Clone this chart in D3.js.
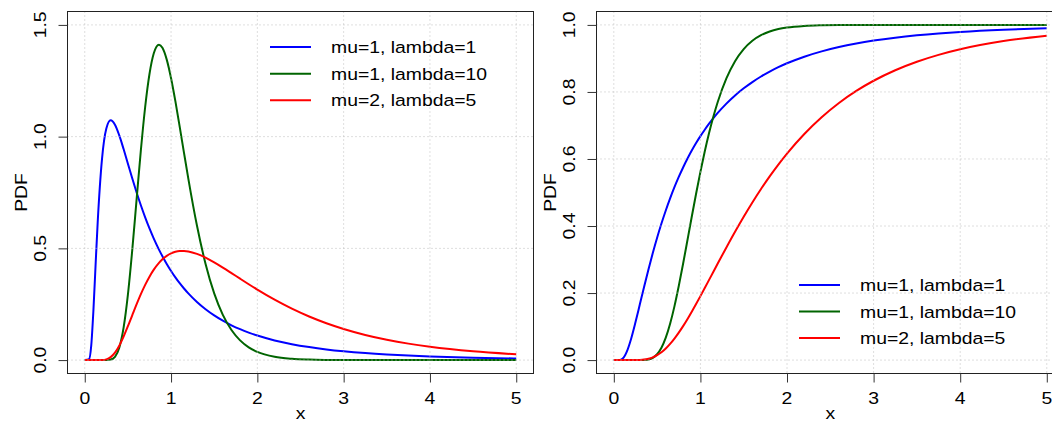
<!DOCTYPE html>
<html>
<head>
<meta charset="utf-8">
<script src="https://cdn.jsdelivr.net/npm/d3@7"></script>
<style>
  html, body { margin: 0; padding: 0; background: #fff; overflow: hidden; }
  svg { display: block; }
  text { font-family: "Liberation Sans", Arial, Helvetica, sans-serif; font-size: 17px; fill: #000; }
</style>
</head>
<body>
<svg id="chart" width="1052" height="423"></svg>
<script>
// ---- data ----
const xs = [0, 0.05, 0.075, 0.1, 0.125, 0.15, 0.2, 0.25, 0.3, 0.35, 0.4, 0.45, 0.5, 0.55, 0.6, 0.65, 0.7, 0.75, 0.8, 0.86, 0.9, 0.95, 1.0, 1.05, 1.1, 1.15, 1.2, 1.3, 1.4, 1.5, 1.6, 1.7, 1.8, 1.9, 2.0, 2.2, 2.4, 2.6, 2.8, 3.0, 3.25, 3.5, 3.75, 4.0, 4.5, 5.0];

const pdfBlue = [0, 0.0043, 0.0647, 0.2198, 0.4222, 0.6176, 0.9005, 1.0362, 1.0729, 1.0536, 1.0055, 0.9443, 0.8788, 0.8136, 0.7513, 0.6928, 0.6388, 0.5891, 0.5438, 0.4946, 0.4647, 0.4303, 0.3989, 0.3704, 0.3442, 0.3203, 0.2985, 0.2600, 0.2275, 0.1998, 0.1761, 0.1558, 0.1383, 0.1231, 0.1098, 0.0881, 0.0713, 0.0582, 0.0477, 0.0394, 0.0312, 0.0249, 0.0200, 0.0162, 0.0107, 0.0072];
const pdfGreen = [0, 0, 0, 0, 0, 0, 0, 0.0001, 0.0022, 0.0146, 0.0554, 0.1450, 0.2929, 0.4908, 0.7155, 0.9382, 1.1326, 1.2804, 1.3731, 1.4115, 1.3977, 1.3447, 1.2616, 1.1587, 1.0449, 0.9276, 0.8124, 0.6021, 0.4301, 0.2984, 0.2024, 0.1347, 0.0883, 0.0572, 0.0366, 0.0147, 0.0057, 0.0022, 0.0008, 0.0003, 0.0001, 0, 0, 0, 0, 0];
const pdfRed = [0, 0, 0, 0, 0, 0, 0.0004, 0.0034, 0.0132, 0.0333, 0.0646, 0.1051, 0.1515, 0.2005, 0.2492, 0.2951, 0.3368, 0.3735, 0.4047, 0.4350, 0.4509, 0.4664, 0.4775, 0.4845, 0.4880, 0.4885, 0.4863, 0.4755, 0.4586, 0.4375, 0.4141, 0.3894, 0.3643, 0.3395, 0.3154, 0.2703, 0.2301, 0.1951, 0.1650, 0.1394, 0.1127, 0.0912, 0.0737, 0.0597, 0.0392, 0.0259];

const cdfBlue = [0, 0, 0.0007, 0.0041, 0.0121, 0.0251, 0.0638, 0.1127, 0.1657, 0.2191, 0.2706, 0.3194, 0.3650, 0.4073, 0.4464, 0.4824, 0.5158, 0.5464, 0.5747, 0.6059, 0.6250, 0.6474, 0.6681, 0.6873, 0.7052, 0.7218, 0.7373, 0.7651, 0.7894, 0.8108, 0.8295, 0.8461, 0.8608, 0.8739, 0.8855, 0.9052, 0.9211, 0.9340, 0.9445, 0.9532, 0.9620, 0.9690, 0.9746, 0.9791, 0.9857, 0.9901];
const cdfGreen = [0, 0, 0, 0, 0, 0, 0, 0, 0, 0.0004, 0.0020, 0.0067, 0.0175, 0.0369, 0.0670, 0.1084, 0.1603, 0.2209, 0.2874, 0.3714, 0.4276, 0.4963, 0.5616, 0.6222, 0.6773, 0.7266, 0.7701, 0.8405, 0.8918, 0.9279, 0.9527, 0.9693, 0.9803, 0.9875, 0.9921, 0.9969, 0.9988, 0.9996, 0.9998, 0.9999, 1, 1, 1, 1, 1, 1];
const cdfRed = [0, 0, 0, 0, 0, 0, 0, 0.0001, 0.0005, 0.0016, 0.0040, 0.0082, 0.0146, 0.0234, 0.0346, 0.0483, 0.0641, 0.0819, 0.1013, 0.1266, 0.1443, 0.1673, 0.1908, 0.2149, 0.2393, 0.2637, 0.2881, 0.3362, 0.3830, 0.4278, 0.4704, 0.5106, 0.5483, 0.5834, 0.6162, 0.6747, 0.7246, 0.7671, 0.8030, 0.8334, 0.8648, 0.8902, 0.9107, 0.9273, 0.9517, 0.9677];

const seriesNames = ["mu=1, lambda=1", "mu=1, lambda=10", "mu=2, lambda=5"];
const seriesColors = ["#0000ff", "#006400", "#ff0000"];

const xTicks = [0, 1, 2, 3, 4, 5];
const xTickLabels = ["0", "1", "2", "3", "4", "5"];
const pdfTicks = [0, 0.5, 1.0, 1.5];
const pdfTickLabels = ["0.0", "0.5", "1.0", "1.5"];
const cdfTicks = [0, 0.2, 0.4, 0.6, 0.8, 1.0];
const cdfTickLabels = ["0.0", "0.2", "0.4", "0.6", "0.8", "1.0"];

const xLabel = "x";
const yLabel = "PDF";

// ---- drawing ----
const svg = d3.select("#chart");
const SX = 1.14; // horizontal glyph stretch seen in the reference font

function addText(g, x, y, str, rot, anchor) {
  return g.append("text")
    .attr("transform", `translate(${x},${y}) rotate(${rot}) scale(${SX},1)`)
    .attr("text-anchor", anchor)
    .text(str);
}

function panel(cfg) {
  const g = svg.append("g");
  const box = cfg.box; // [left, top, right, bottom]
  const x = d3.scaleLinear().domain([-0.2, 5.2]).range([box[0], box[2]]);
  const y = d3.scaleLinear().domain(cfg.yDomain).range([box[3], box[1]]);

  const clipId = "clip" + cfg.id;
  svg.append("clipPath").attr("id", clipId)
    .append("rect").attr("x", box[0]).attr("y", box[1])
    .attr("width", box[2] - box[0]).attr("height", box[3] - box[1]);

  const line = d3.line()
    .x(d => x(d[0])).y(d => y(d[1]))
    .curve(d3.curveMonotoneX);

  const plotG = g.append("g").attr("clip-path", `url(#${clipId})`);
  cfg.series.forEach((vals, i) => {
    plotG.append("path")
      .datum(xs.map((v, k) => [v, vals[k]]))
      .attr("d", line)
      .attr("fill", "none")
      .attr("stroke", seriesColors[i])
      .attr("stroke-width", 2)
      .attr("stroke-linejoin", "round");
  });

  // grid (drawn over curves, as in reference)
  const grid = g.append("g")
    .attr("stroke", "#bdbdbd").attr("stroke-width", 1)
    .attr("stroke-dasharray", "1,3").attr("fill", "none");
  xTicks.forEach(t => {
    grid.append("line").attr("x1", x(t)).attr("x2", x(t))
      .attr("y1", box[1]).attr("y2", box[3]);
  });
  cfg.yTicks.forEach(t => {
    grid.append("line").attr("x1", box[0]).attr("x2", box[2])
      .attr("y1", y(t)).attr("y2", y(t));
  });

  // box
  g.append("rect")
    .attr("x", box[0]).attr("y", box[1])
    .attr("width", box[2] - box[0]).attr("height", box[3] - box[1])
    .attr("fill", "none").attr("stroke", "#222").attr("stroke-width", 1);

  // axes (ticks via d3 axis)
  const ax = g.append("g").attr("transform", `translate(0,${box[3]})`)
    .call(d3.axisBottom(x).tickValues(xTicks).tickSize(9).tickFormat(""));
  const ay = g.append("g").attr("transform", `translate(${box[0]},0)`)
    .call(d3.axisLeft(y).tickValues(cfg.yTicks).tickSize(9).tickFormat(""));
  [ax, ay].forEach(a => {
    a.select(".domain").remove();
    a.selectAll(".tick line").attr("stroke", "#333").attr("stroke-width", 1);
  });

  // tick labels
  xTicks.forEach((t, i) => addText(g, x(t), 404, xTickLabels[i], 0, "middle"));
  cfg.yTicks.forEach((t, i) => addText(g, box[0] - 21.5, y(t), cfg.yTickLabels[i], -90, "middle"));

  // axis titles
  addText(g, (box[0] + box[2]) / 2, 419, xLabel, 0, "middle");
  addText(g, box[0] - 41, (box[1] + box[3]) / 2, yLabel, -90, "middle");

  // legend
  const lx = box[0] + cfg.legend[0];
  cfg.legend[1].forEach((ry, i) => {
    g.append("line")
      .attr("x1", lx).attr("x2", lx + 41)
      .attr("y1", ry).attr("y2", ry)
      .attr("stroke", seriesColors[i]).attr("stroke-width", 2);
    addText(g, lx + 61, ry + 6, seriesNames[i], 0, "start");
  });
}

panel({
  id: "L",
  box: [67.5, 11.5, 533.5, 373.5],
  yDomain: [-0.06, 1.56],
  yTicks: pdfTicks, yTickLabels: pdfTickLabels,
  series: [pdfBlue, pdfGreen, pdfRed],
  legend: [202.5, [47, 73.7, 100.3]]
});

panel({
  id: "R",
  box: [596.5, 11.5, 1064.1, 373.5],
  yDomain: [-0.04, 1.04],
  yTicks: cdfTicks, yTickLabels: cdfTickLabels,
  series: [cdfBlue, cdfGreen, cdfRed],
  legend: [202.5, [285, 311.5, 338]]
});
</script>
</body>
</html>
